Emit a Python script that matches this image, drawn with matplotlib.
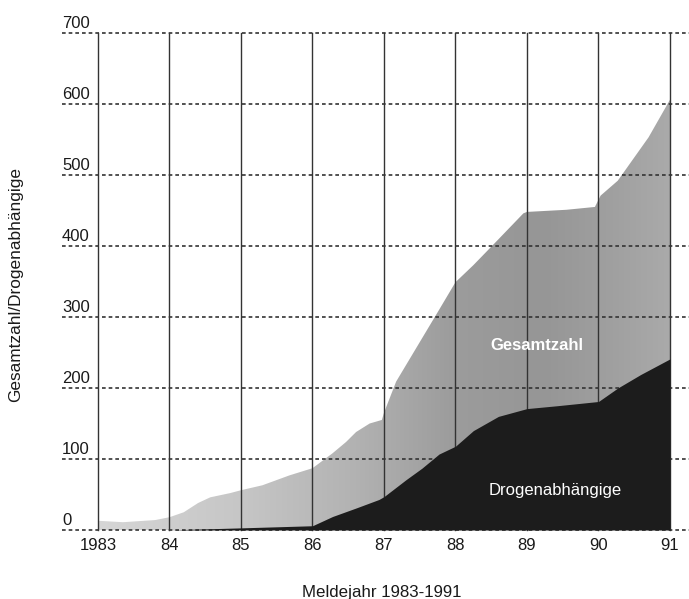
import numpy as np
import matplotlib.pyplot as plt
from matplotlib.colors import LinearSegmentedColormap

plt.rcParams['font.family'] = ['Liberation Sans', 'DejaVu Sans']

# Data (Meldejahr, fractional positions along the year axis)
gesamt_x = [1983.0, 1983.35, 1983.8, 1984.0, 1984.2, 1984.4, 1984.57, 1984.85,
            1985.0, 1985.3, 1985.68, 1986.0, 1986.28, 1986.47, 1986.61, 1986.8,
            1986.97, 1987.0, 1987.17, 1987.77, 1988.0, 1988.25, 1988.52,
            1988.95, 1989.0, 1989.55, 1989.95, 1990.03, 1990.27, 1990.7, 1991.0]
gesamt_y = [13, 11, 14, 18, 25, 38, 46, 52,
            56, 63, 77, 87, 108, 124, 138, 150,
            155, 165, 209, 310, 349, 373, 401,
            446, 448, 451, 455, 471, 492, 553, 606]

drogen_x = [1983.0, 1984.0, 1984.3, 1985.0, 1986.0, 1986.28, 1986.61, 1986.93,
            1987.0, 1987.31, 1987.53, 1987.77, 1988.0, 1988.25, 1988.6, 1989.0,
            1989.42, 1990.0, 1990.27, 1990.59, 1991.0]
drogen_y = [0, 0, 1, 3, 6, 19, 31, 43,
            47, 71, 87, 107, 118, 140, 160, 171,
            175, 181, 200, 219, 241]

years = [1983, 1984, 1985, 1986, 1987, 1988, 1989, 1990, 1991]
year_labels = ['1983', '84', '85', '86', '87', '88', '89', '90', '91']
y_values = [0, 100, 200, 300, 400, 500, 600, 700]

fig = plt.figure(figsize=(6.89, 5.99), dpi=100)
ax = fig.add_axes([62 / 689, 1 - 530 / 599, 627 / 689, 497 / 599])
ax.set_xlim(1982.497, 1991.266)
ax.set_ylim(0, 700)
ax.axis('off')

# grey area (Gesamtzahl) with a soft horizontal shading like the print
poly = ax.fill_between(gesamt_x, 0, gesamt_y, color='none', lw=0, zorder=1)
shade = LinearSegmentedColormap.from_list(
    'shade', [(0.0, '#d6d6d6'), (0.25, '#c6c6c6'), (0.45, '#b2b2b2'),
              (0.62, '#9c9c9c'), (0.78, '#969696'), (0.9, '#a0a0a0'),
              (1.0, '#aaaaaa')])
grad = np.linspace(0, 1, 256).reshape(1, -1)
im = ax.imshow(grad, cmap=shade, extent=(1983, 1991, 0, 700), aspect='auto',
               zorder=1, interpolation='bilinear')
im.set_clip_path(poly.get_paths()[0], transform=ax.transData)

# grid
for v in y_values:
    ax.plot([1982.497, 1991.266], [v, v], color='#333333', lw=1.2,
            ls=(0, (2.2, 1.8)), zorder=2, clip_on=False)
for yr in years:
    ax.plot([yr, yr], [0, 700], color='#333333', lw=1.0, zorder=2, clip_on=False)

# black area (Drogenabhängige)
ax.fill_between(drogen_x, 0, drogen_y, color='#1c1c1c', lw=0, zorder=3)

# tick labels
for yr, lbl in zip(years, year_labels):
    ax.annotate(lbl, xy=(yr, 0), xytext=(0, -16), textcoords='offset pixels',
                ha='center', va='center', fontsize=12, color='#1a1a1a')
for v in y_values:
    ax.annotate(str(v), xy=(1982.497, v), xytext=(0, 5), textcoords='offset pixels',
                ha='left', va='baseline', fontsize=12, color='#1a1a1a')

ax.text(1989.14, 260, 'Gesamtzahl', color='white', fontsize=12,
        fontweight='bold', ha='center', va='center', zorder=4)
ax.text(1989.39, 56, 'Drogenabhängige', color='white', fontsize=12,
        ha='center', va='center', zorder=4)

fig.text(16 / 689, 1 - 284 / 599, 'Gesamtzahl/Drogenabhängige', rotation=90,
         ha='center', va='center', fontsize=12.4, color='#1a1a1a')
fig.text(382 / 689, 1 - 592 / 599, 'Meldejahr 1983-1991',
         ha='center', va='center', fontsize=12.2, color='#1a1a1a')

fig.savefig('out.png', dpi=100)
